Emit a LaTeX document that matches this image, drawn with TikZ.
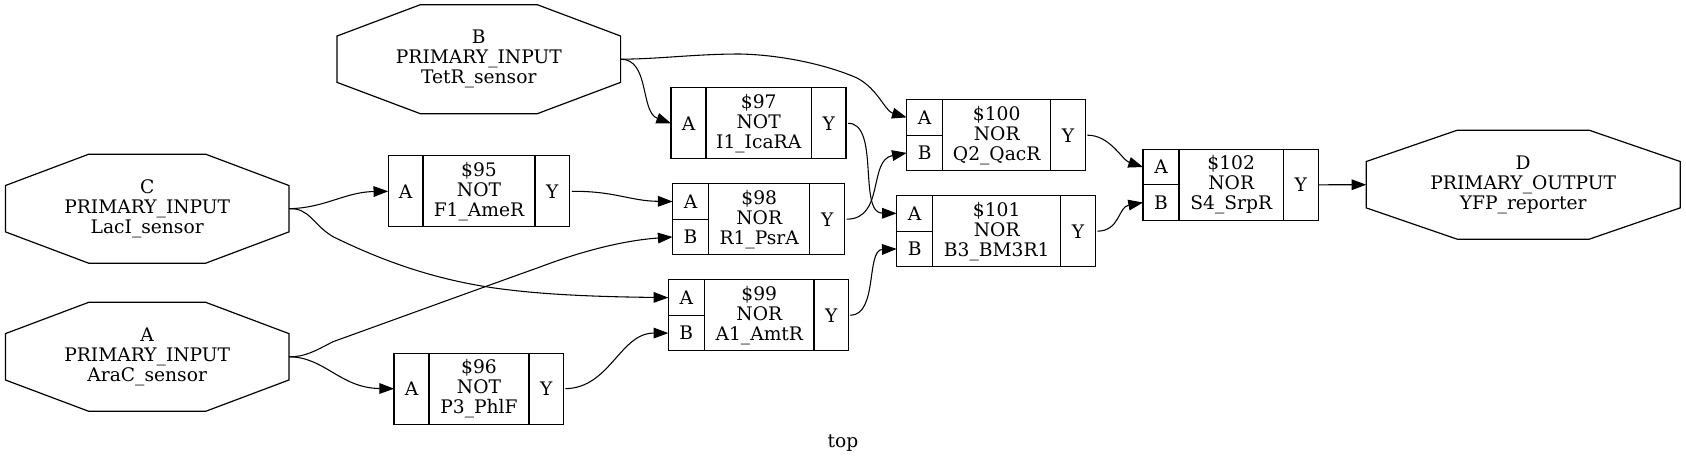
\documentclass[tikz,border=0pt]{standalone}
\usepackage{fontspec}
\setmainfont{DejaVu Serif}
\usetikzlibrary{arrows.meta}
\tikzset{
  cell/.style={draw, rectangle, line width=0.9pt, inner sep=0pt, outer sep=0pt, align=center, minimum height=53.25pt},
  half/.style={cell, minimum height=26.6pt},
  wd/.style={minimum width=#1*0.75pt},
  octa/.style={rectangle, inner sep=0pt, outer sep=0pt, align=center, minimum width=212.7pt, minimum height=81.75pt},
  wire/.style={-{Triangle[length=11pt,width=8pt]}, line width=0.8pt},
  ywire/.style={wire, shorten <=1.5pt}
}
\begin{document}
\begin{tikzpicture}[x=0.75pt, y=-0.75pt, font=\fontsize{14}{15}\selectfont]
    \useasboundingbox (0,0) rectangle (1686,461);
    \node [octa] (inb) at (478.8, 59.2) {B\\PRIMARY\_INPUT\\TetR\_sensor};
    \node [octa] (inc) at (147.2, 208.7) {C\\PRIMARY\_INPUT\\LacI\_sensor};
    \node [octa] (ina) at (147.2, 356.8) {A\\PRIMARY\_INPUT\\AraC\_sensor};
    \node [octa, minimum width=235.5pt] (outd) at (1523.2, 184.7) {D\\PRIMARY\_OUTPUT\\YFP\_reporter};
    \foreach \n/\c in {inb/62.5pt, inc/62.5pt, ina/62.5pt, outd/68.3pt}
      \draw [line width=0.9pt] ([xshift=\c]\n.north west) -- ([xshift=-\c]\n.north east)
        -- ([yshift=-23.5pt]\n.north east) -- ([yshift=23.5pt]\n.south east)
        -- ([xshift=-\c]\n.south east) -- ([xshift=\c]\n.south west)
        -- ([yshift=23.5pt]\n.south west) -- ([yshift=-23.5pt]\n.north west) -- cycle;
    \node [cell, wd=34.8]  (a95) at (405.6, 191.3) {A};
    \node [cell, wd=112]   (m95) at (479.0, 191.3) {\$95\\NOT\\F1\_AmeR};
    \node [cell, wd=34.8]  (y95) at (552.4, 191.3) {Y};
    \node [cell, wd=35]    (a96) at (411.5, 388.7) {A};
    \node [cell, wd=100]   (m96) at (479.0, 388.7) {\$96\\NOT\\P3\_PhlF};
    \node [cell, wd=34.4]  (y96) at (546.2, 388.7) {Y};
    \node [cell, wd=35]    (a97) at (688.5, 123.3) {A};
    \node [cell, wd=105.3] (m97) at (758.7, 123.3) {\$97\\NOT\\I1\_IcaRA};
    \node [cell, wd=34.7]  (y97) at (828.7, 123.3) {Y};
    \node [half, wd=36]    (a98) at (690.6, 201.5) {A};
    \node [half, wd=36]    (b98) at (690.6, 237.0) {B};
    \node [cell, wd=101]   (m98) at (759.2, 219.2) {\$98\\NOR\\R1\_PsrA};
    \node [cell, wd=35]    (y98) at (827.2, 219.2) {Y};
    \node [half, wd=36]    (a99) at (686.3, 297.6) {A};
    \node [half, wd=36]    (b99) at (686.3, 333.1) {B};
    \node [cell, wd=110]   (m99) at (759.3, 315.3) {\$99\\NOR\\A1\_AmtR};
    \node [cell, wd=34.4]  (y99) at (831.2, 315.3) {Y};
    \node [half, wd=36]    (a100) at (924.7, 117.4) {A};
    \node [half, wd=36]    (b100) at (924.7, 152.9) {B};
    \node [cell, wd=108]   (m100) at (996.7, 135.2) {\$100\\NOR\\Q2\_QacR};
    \node [cell, wd=34.6]  (y100) at (1068.0, 135.2) {Y};
    \node [half, wd=36]    (a101) at (914.7, 213.4) {A};
    \node [half, wd=36]    (b101) at (914.7, 248.9) {B};
    \node [cell, wd=128]   (m101) at (996.7, 231.2) {\$101\\NOR\\B3\_BM3R1};
    \node [cell, wd=34.6]  (y101) at (1078.0, 231.2) {Y};
    \node [half, wd=36]    (a102) at (1161.0, 167.0) {A};
    \node [half, wd=36]    (b102) at (1161.0, 202.5) {B};
    \node [cell, wd=104.3] (m102) at (1231.2, 184.8) {\$102\\NOR\\S4\_SrpR};
    \node [cell, wd=35]    (y102) at (1300.8, 184.8) {Y};
    \node (title) at (843, 443) {top};
    \draw [wire] (inb.east) .. controls (660,59) and (695,54) .. (740,54) .. controls (785,55) and (830,66) .. (857,78) .. controls (878,89) and (885,111) .. (a100.west);
    \draw [wire] (inb.east) .. controls (650,59) and (640,112) .. (a97.west);
    \draw [wire] (inc.east) .. controls (325,208) and (345,192) .. (a95.west);
    \draw [wire] (inc.east) .. controls (310,208) and (312,224) .. (333,236.7) .. controls (385,262) and (440,282) .. (510,290) .. controls (560,296) and (620,297) .. (a99.west);
    \draw [wire] (ina.east) .. controls (305,357) and (315,351) .. (333,341.7) .. controls (400,317.6) and (470,292) .. (540,267) .. controls (590,248) and (630,240) .. (b98.west);
    \draw [wire] (ina.east) .. controls (325,357) and (340,388) .. (a96.west);
    \draw [ywire] (y95.east) .. controls (615,191) and (630,201) .. (a98.west);
    \draw [ywire] (y96.east) .. controls (610,388) and (620,333) .. (b99.west);
    \draw [ywire] (y97.east) .. controls (880,123) and (858,213) .. (a101.west);
    \draw [ywire] (y98.east) .. controls (885,219) and (868,160) .. (b100.west);
    \draw [ywire] (y99.east) .. controls (878,315) and (866,250) .. (b101.west);
    \draw [ywire] (y100.east) .. controls (1110,135) and (1122,160) .. (a102.west);
    \draw [ywire] (y101.east) .. controls (1120,231) and (1118,207) .. (b102.west);
    \draw [wire] (y102.east) to (outd.west);
\end{tikzpicture}
\end{document}
